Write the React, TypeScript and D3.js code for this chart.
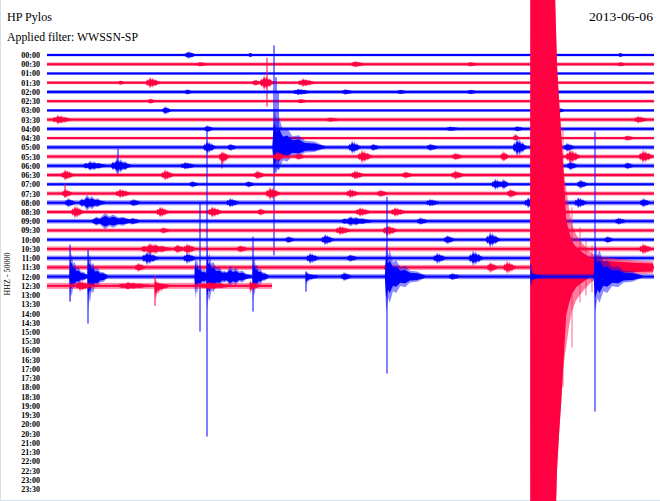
import React from "react";
import * as d3 from "d3";

const W = 660;
const H = 501;

const stationTitle = "HP Pylos";
const filterTitle = "Applied filter: WWSSN-SP";
const dateLabel = "2013-06-06";
const channelLabel = "HHZ - 50000";

const timeLabels = [
  "00:00", "00:30", "01:00", "01:30", "02:00", "02:30", "03:00", "03:30",
  "04:00", "04:30", "05:00", "05:30", "06:00", "06:30", "07:00", "07:30",
  "08:00", "08:30", "09:00", "09:30", "10:00", "10:30", "11:00", "11:30",
  "12:00", "12:30", "13:00", "13:30", "14:00", "14:30", "15:00", "15:30",
  "16:00", "16:30", "17:00", "17:30", "18:00", "18:30", "19:00", "19:30",
  "20:00", "20:30", "21:00", "21:30", "22:00", "22:30", "23:00", "23:30",
];

const minutesPerRow = 30;
const lastRow = 25;
const lastRowEndMin = 11.12;

// background noise half-amplitude per recorded row
const rowNoise = [
  0.3, 0.8, 0.2, 0.5, 0.9, 0.5, 0.3, 1.0, 1.0, 0.3, 1.2, 1.0, 1.3,
  1.0, 0.8, 1.0, 1.5, 1.0, 1.3, 1.0, 1.0, 1.5, 1.5, 1.5, 1.5, 2.0,
];

// [row, peak minute, up amplitude, down amplitude, duration (min), kind 0=spindle 1=impulsive]
const events: [number, number, number, number, number, number][] = [
  [0, 6.97, 3, 3, 0.5, 0], [0, 10.03, 1.5, 1.5, 0.2, 0], [0, 28.32, 1.5, 1.5, 0.2, 0],
  [1, 15.22, 2.5, 2.5, 0.6, 0], [1, 7.56, 1.5, 1.5, 0.4, 0], [1, 20.91, 1.5, 1.5, 0.4, 0], [1, 28.32, 1.5, 1.5, 0.3, 0],
  [3, 5.09, 5, 5, 0.7, 0], [3, 10.28, 2.5, 2.5, 0.4, 0], [3, 10.73, 7, 7, 0.7, 0], [3, 12.65, 3.5, 3.5, 0.8, 0], [3, 3.61, 1.5, 1.5, 0.25, 0],
  [4, 6.92, 2, 2, 0.3, 0], [4, 12.41, 2.5, 2.5, 0.8, 0], [4, 14.73, 2, 2, 0.5, 0], [4, 17.45, 1.5, 1.5, 0.4, 0], [4, 20.91, 1.5, 1.5, 0.4, 0],
  [5, 5.09, 2, 2, 0.3, 0], [5, 12.51, 1.5, 1.5, 0.4, 0],
  [6, 5.83, 3.5, 3.5, 0.4, 0], [6, 25.36, 1.5, 1.5, 0.25, 0],
  [7, 0.54, 4, 4, 0.9, 0], [7, 13.99, 1.5, 1.5, 0.5, 0], [7, 29.21, 3, 3, 0.6, 0],
  [8, 7.91, 3, 3, 0.4, 0], [8, 23.23, 2, 2, 0.4, 0], [8, 19.92, 1.5, 1.5, 0.5, 0],
  [9, 23.13, 4, 2, 0.3, 0], [9, 28.67, 2, 2, 0.4, 0],
  [10, 7.91, 6, 6, 0.6, 0], [10, 9.05, 3, 3, 0.4, 0], [10, 11.22, 40, 30, 2.6, 1], [10, 12.65, 4, 4, 0.5, 0],
  [10, 15.08, 6, 6, 0.6, 0], [10, 16.11, 3, 3, 0.4, 0], [10, 18.93, 3, 3, 0.5, 0], [10, 23.23, 9, 9, 0.7, 0], [10, 25.7, 4, 4, 0.5, 0],
  [11, 8.65, 5, 8, 0.5, 0], [11, 11.37, 5, 5, 0.5, 0], [11, 12.41, 3, 3, 0.4, 0], [11, 15.57, 6, 6, 0.7, 0],
  [11, 20.17, 3, 3, 0.5, 0], [11, 22.54, 5, 5, 0.4, 0], [11, 25.85, 7, 7, 0.7, 0], [11, 29.46, 6, 6, 0.7, 0],
  [12, 2.13, 4, 4, 1.1, 0], [12, 3.46, 7, 7, 1.0, 0], [12, 6.82, 3, 3, 0.7, 0], [12, 25.85, 4, 4, 0.5, 0], [12, 28.67, 3, 3, 0.4, 0],
  [13, 0.89, 5, 5, 0.6, 0], [13, 5.83, 5, 5, 0.6, 0], [13, 10.38, 4, 4, 0.5, 0], [13, 15.22, 4, 4, 0.6, 0], [13, 17.7, 3, 3, 0.5, 0], [13, 20.17, 4, 4, 0.6, 0],
  [14, 7.17, 2.5, 2.5, 0.4, 0], [14, 9.94, 2.5, 2.5, 0.4, 0], [14, 22.15, 5, 5, 0.6, 0], [14, 22.54, 5, 5, 0.4, 0], [14, 26.35, 4, 4, 0.5, 0],
  [15, 0.89, 4, 4, 0.5, 0], [15, 3.61, 4, 4, 0.7, 0], [15, 11.02, 6, 6, 0.7, 0], [15, 14.98, 4, 4, 0.6, 0], [15, 16.46, 3, 3, 0.5, 0], [15, 22.89, 4, 4, 0.5, 0],
  [16, 1.04, 4, 4, 0.5, 0], [16, 1.98, 7, 7, 1.3, 0], [16, 4.25, 3, 3, 0.5, 0], [16, 9.05, 4, 4, 0.6, 0],
  [16, 18.93, 3, 3, 0.6, 0], [16, 23.78, 5, 5, 0.6, 0], [16, 26.25, 5, 5, 0.6, 0], [16, 29.46, 4, 4, 0.5, 0],
  [17, 1.38, 6, 6, 0.6, 0], [17, 5.59, 5, 5, 0.6, 0], [17, 8.16, 5, 5, 0.7, 0], [17, 10.53, 3, 3, 0.4, 0], [17, 15.47, 4, 4, 0.7, 0], [17, 17.2, 4, 4, 0.7, 0],
  [18, 2.87, 7, 7, 2.2, 0], [18, 4.2, 3, 3, 0.5, 0], [18, 15.0, 4, 4, 1.5, 0], [18, 18.44, 3, 3, 0.5, 0], [18, 28.23, 3, 3, 0.5, 0],
  [19, 5.73, 2.5, 2.5, 0.4, 0], [19, 14.48, 4, 4, 0.7, 0], [19, 16.81, 5, 5, 0.7, 0],
  [20, 11.91, 3, 3, 0.4, 0], [20, 13.74, 5, 5, 0.6, 0], [20, 19.77, 4, 4, 0.5, 0], [20, 21.9, 7, 7, 0.7, 0], [20, 27.68, 3, 3, 0.4, 0],
  [21, 5.09, 5, 5, 1.5, 0], [21, 6.43, 4, 4, 0.5, 0], [21, 6.92, 5, 5, 0.6, 0], [21, 9.54, 3, 3, 0.5, 0], [21, 29.46, 5, 5, 0.6, 0],
  [22, 4.94, 6, 6, 0.8, 0], [22, 6.92, 5, 5, 0.6, 0], [22, 13.0, 5, 5, 0.6, 0], [22, 14.98, 3, 3, 0.5, 0], [22, 19.28, 5, 5, 0.6, 0], [22, 21.06, 7, 7, 0.7, 0],
  [23, 4.5, 4, 4, 0.5, 0], [23, 16.81, 4, 4, 0.5, 0], [23, 21.9, 5, 5, 0.5, 0], [23, 22.74, 6, 6, 0.6, 0],
  [24, 1.14, 30, 25, 0.9, 1], [24, 2.03, 28, 34, 1.0, 1], [24, 7.32, 22, 22, 1.0, 1], [24, 7.91, 30, 32, 1.3, 1],
  [24, 9.05, 10, 10, 1.5, 0], [24, 10.18, 24, 24, 0.8, 1], [24, 12.8, 5, 8, 0.6, 1], [24, 14.68, 4, 4, 0.5, 0],
  [24, 16.76, 34, 34, 2.0, 1], [24, 17.7, 5, 5, 0.6, 0], [24, 20.02, 3, 3, 0.5, 0], [24, 23.93, 6, 6, 0.5, 1], [24, 27.09, 34, 34, 2.4, 1],
  [25, 1.63, 5, 5, 0.7, 0], [25, 5.34, 6, 15, 0.7, 1], [25, 10.03, 6, 8, 0.5, 1], [25, 4.0, 3, 3, 1.5, 0], [25, 8.0, 3, 3, 1.5, 0],
];

// [row, minute, up amplitude, down amplitude]
const spikes: [number, number, number, number][] = [
  [3, 10.88, 25, 24],
  [10, 11.22, 102, 108], [10, 11.32, 70, 25], [10, 11.42, 55, 22],
  [11, 8.65, 0, 12],
  [12, 3.51, 17, 8],
  [15, 0.89, 10, 4],
  [24, 1.14, 32, 25], [24, 2.03, 27, 47], [24, 7.56, 75, 55], [24, 7.91, 150, 160],
  [24, 10.18, 40, 35], [24, 12.8, 5, 15], [24, 16.81, 80, 97], [24, 23.93, 12, 8], [24, 27.09, 145, 135],
  [25, 5.34, 10, 20],
];

// great earthquake on the 11:30 line: [minute, amplitude]
const quakeRow = 23;
const quakeEnvelope: [number, number][] = [
  [23.88, 0], [23.9, 700], [25.01, 320], [25.11, 270], [25.21, 200], [25.31, 165], [25.41, 135],
  [25.51, 100], [25.66, 78], [25.8, 58], [25.95, 42], [26.15, 32], [26.35, 26], [26.64, 19],
  [26.94, 13], [27.34, 10], [28.08, 8], [29.07, 6], [29.96, 5],
];
const quakeSpikes: [number, number, number][] = [
  [25.5, 140, 120], [25.95, 60, 80], [26.35, 40, 35], [26.64, 30, 28], [26.94, 22, 25],
];

const BLUE = "#0000ff";
const RED = "#ff0040";

// envelope templates (relative time, relative amplitude)
const shapes: [number, number][][] = [
  [[0, 0], [0.1, 0.5], [0.18, 0.3], [0.3, 1], [0.4, 0.55], [0.48, 0.8], [0.6, 0.4], [0.7, 0.5], [0.82, 0.2], [1, 0]],
  [[0, 0], [0.03, 1], [0.08, 0.6], [0.12, 0.75], [0.2, 0.4], [0.28, 0.45], [0.38, 0.25], [0.5, 0.28], [0.62, 0.14], [0.8, 0.12], [1, 0]],
];
const peakAt = [0.3, 0.03];

export default function App() {
  const x = d3.scaleLinear().domain([0, minutesPerRow]).range([47, 654]);
  const y = d3.scaleLinear().domain([0, timeLabels.length - 1]).range([55, 489]);
  const a = d3.scaleLinear().domain([0, 100]).range([0, 100]);
  const color = (r: number) => (r % 2 === 0 ? BLUE : RED);

  const rows = d3.range(0, lastRow + 1).map((r) => {
    const yc = y(r);
    const c = color(r);
    const end = r === lastRow ? lastRowEndMin : minutesPerRow;
    const n = rowNoise[r];
    const evs = events.filter((e) => e[0] === r);
    const sps = spikes.filter((s) => s[0] === r);
    const evPath = (e: [number, number, number, number, number, number], k: number) => {
      const [, pk, up, dn, dur, kind] = e;
      const start = pk - dur * peakAt[kind];
      const area = d3
        .area<[number, number]>()
        .x((p) => x(start + p[0] * dur))
        .y0((p) => yc + 1 + a(dn * p[1] * k))
        .y1((p) => yc - 1 - a(up * p[1] * k));
      return area(shapes[kind]) || "";
    };
    const quakePath = (inner: boolean) =>
      d3
        .area<[number, number]>()
        .x((p) => x(p[0]))
        .y0((p) => yc + 1 + a(inner && p[1] < 100 ? p[1] * 0.6 : p[1]))
        .y1((p) => yc - 1 - a(inner && p[1] < 100 ? p[1] * 0.6 : p[1]))(quakeEnvelope) || "";
    return (
      <g key={r}>
        <rect x={x(0)} y={yc - 1 - a(n)} width={x(end) - x(0)} height={2 + 2 * a(n)} fill={c} opacity={0.45} />
        <rect x={x(0)} y={yc - 1} width={x(end) - x(0)} height={2} fill={c} />
        {evs.map((e, i) => (
          <g key={i}>
            <path d={evPath(e, 1)} fill={c} opacity={0.45} />
            <path d={evPath(e, 0.6)} fill={c} />
          </g>
        ))}
        {sps.map((s, i) => {
          const xx = Math.round(x(s[1]));
          return <line key={"s" + i} x1={xx} x2={xx} y1={yc - a(s[2])} y2={yc + a(s[3])} stroke={c} strokeWidth={1} />;
        })}
        {r === quakeRow && (
          <g>
            <path d={quakePath(false)} fill={c} opacity={0.5} />
            <path d={quakePath(true)} fill={c} />
            {quakeSpikes.map((s, i) => {
              const xx = Math.round(x(s[0]));
              return <line key={"q" + i} x1={xx} x2={xx} y1={yc - a(s[1])} y2={yc + a(s[2])} stroke={c} strokeWidth={1} opacity={0.6} />;
            })}
          </g>
        )}
      </g>
    );
  });

  return (
    <svg width={W} height={H} style={{ position: "absolute", left: 0, top: 0, background: "#fff" }}>
      <rect x={0} y={0} width={W} height={H} fill="#fff" />
      <line x1={0.5} x2={0.5} y1={0} y2={H} stroke="#d4e0ee" />
      <line x1={0} x2={W} y1={H - 0.5} y2={H - 0.5} stroke="#d4e0ee" />
      <g fontFamily="'Liberation Serif', 'Times New Roman', serif" fill="#000">
        <text x={7} y={21} fontSize={12} textLength={45} lengthAdjust="spacingAndGlyphs">{stationTitle}</text>
        <text x={7} y={41} fontSize={12} textLength={131} lengthAdjust="spacingAndGlyphs">{filterTitle}</text>
        <text x={653} y={21} fontSize={12} textAnchor="end" textLength={64} lengthAdjust="spacingAndGlyphs">{dateLabel}</text>
        {timeLabels.map((t, i) => (
          <text key={t} x={40} y={y(i) + 3} fontSize={8} fontWeight="bold" textAnchor="end">{t}</text>
        ))}
        <text transform={`translate(10,274) rotate(-90)`} fontSize={8} textAnchor="middle">{channelLabel}</text>
      </g>
      {rows}
    </svg>
  );
}
